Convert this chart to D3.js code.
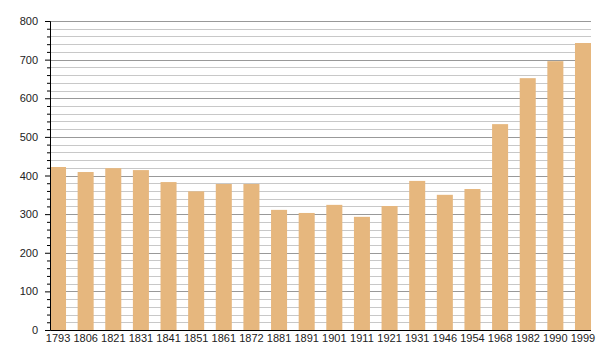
<!DOCTYPE html>
<html>
<head>
<meta charset="utf-8">
<script src="https://cdn.jsdelivr.net/npm/d3@7"></script>
<style>
  body { margin: 0; background: #fff; }
  text { font-family: "Liberation Sans", Arial, sans-serif; }
</style>
</head>
<body>
<div id="chart"></div>
<script>
// data
const years = ["1793", "1806", "1821", "1831", "1841", "1851", "1861", "1872", "1881", "1891",
  "1901", "1911", "1921", "1931", "1946", "1954", "1968", "1982", "1990", "1999"];
const population = [422, 409, 419, 414, 383, 359, 378, 378, 311, 303,
  324, 293, 321, 386, 350, 365, 533, 652, 696, 743];
const majorTicks = [0, 100, 200, 300, 400, 500, 600, 700, 800];

const W = 600, H = 360;
const margin = { top: 21, right: 9, bottom: 30, left: 50 };
const width = W - margin.left - margin.right;
const height = H - margin.top - margin.bottom;

const svg = d3.select("#chart").append("svg")
  .attr("width", W)
  .attr("height", H)
  .append("g")
  .attr("transform", `translate(${margin.left},${margin.top})`);

const x = d3.scaleBand()
  .domain(years)
  .range([0, width])
  .paddingInner(0.42)
  .paddingOuter(0);

const y = d3.scaleLinear()
  .domain([0, 800])
  .range([height, 0]);

// minor + major grid lines
const minorTicks = d3.range(0, 801, 20).filter(v => v % 100 !== 0);
svg.selectAll(".minor").data(minorTicks).enter().append("line")
  .attr("x1", 0).attr("x2", width)
  .attr("y1", d => Math.round(y(d)) + 0.5).attr("y2", d => Math.round(y(d)) + 0.5)
  .attr("stroke", "#c8c8c8");
svg.selectAll(".major").data(majorTicks.filter(v => v > 0)).enter().append("line")
  .attr("x1", 0).attr("x2", width)
  .attr("y1", d => Math.round(y(d)) + 0.5).attr("y2", d => Math.round(y(d)) + 0.5)
  .attr("stroke", "#999");

// bars
svg.selectAll(".bar").data(population).enter().append("rect")
  .attr("class", "bar")
  .attr("x", (d, i) => x(years[i]))
  .attr("y", d => y(d))
  .attr("width", x.bandwidth())
  .attr("height", d => height - y(d))
  .attr("fill", "#e6b77e");

// y axis with minor ticks
const yAxis = svg.append("g")
  .call(d3.axisLeft(y).tickValues(majorTicks).tickSize(5).tickPadding(7));
svg.append("g")
  .call(d3.axisLeft(y).tickValues(minorTicks).tickSize(3).tickFormat(""))
  .select(".domain").remove();
svg.selectAll(".tick line").attr("stroke", "#000");
yAxis.select(".domain").attr("stroke", "#000");
yAxis.selectAll("text").attr("font-size", 11).attr("fill", "#222");

// x axis
const xAxis = svg.append("g")
  .attr("transform", `translate(0,${height})`)
  .call(d3.axisBottom(x).tickSize(0).tickPadding(4));
xAxis.select(".domain").attr("stroke", "#000").attr("d", `M0.5,0.5H${width}`);
xAxis.selectAll("text").attr("font-size", 11).attr("fill", "#222");
</script>
</body>
</html>
